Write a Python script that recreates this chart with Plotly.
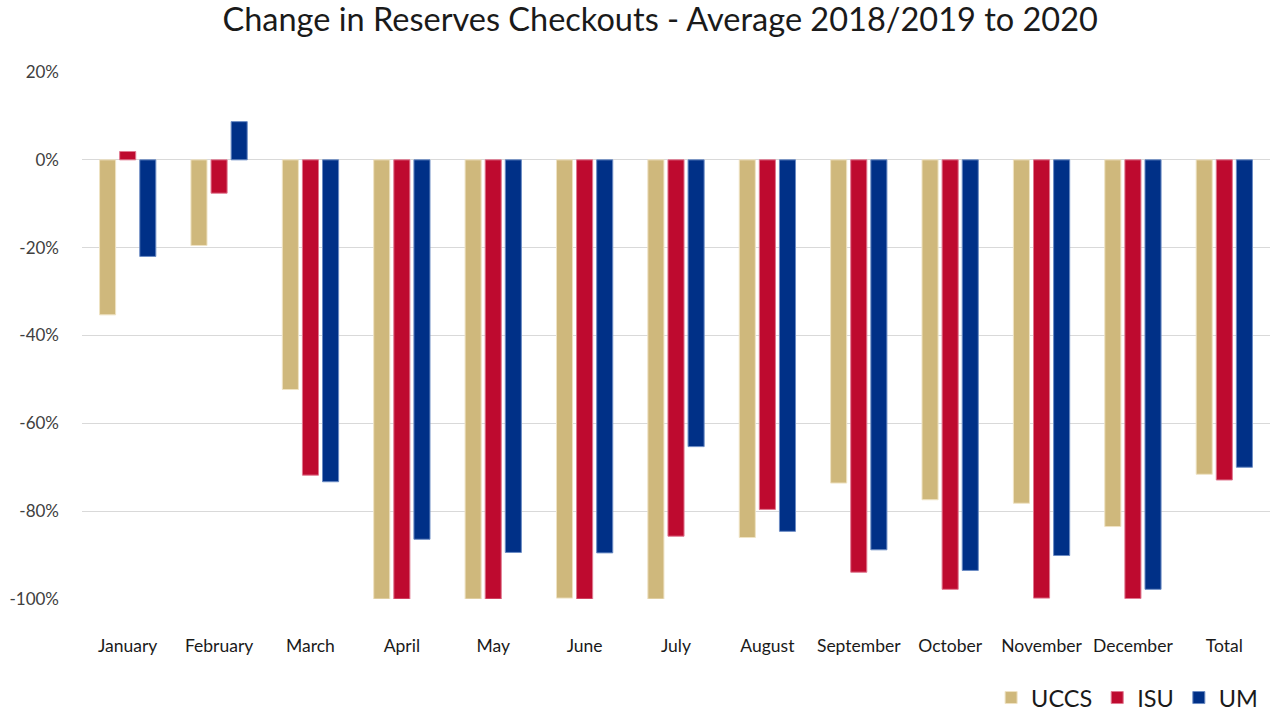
import plotly.graph_objects as go

months = ["January", "February", "March", "April", "May", "June", "July",
          "August", "September", "October", "November", "December", "Total"]

uccs = [-35.3, -19.5, -52.3, -100, -100, -99.8, -100, -86.0, -73.6, -77.4, -78.2, -83.5, -71.6]
isu = [1.9, -7.6, -71.8, -100, -100, -100, -85.7, -79.6, -93.9, -97.8, -99.8, -99.9, -72.9]
um = [-22.0, 8.7, -73.3, -86.4, -89.4, -89.5, -65.3, -84.6, -88.8, -93.5, -90.1, -97.8, -70.0]

y_ticks = [20, 0, -20, -40, -60, -80, -100]
y_tick_labels = ["20%", "0%", "-20%", "-40%", "-60%", "-80%", "-100%"]

fig = go.Figure()

# one trace per school
fig.add_trace(go.Bar(x=months, y=uccs, name="UCCS", marker_color="#CFB87C",
                     marker_line=dict(width=1, color="#EFE3C4")))
fig.add_trace(go.Bar(x=months, y=isu, name="ISU", marker_color="#BE0A2F",
                     marker_line=dict(width=1, color="#E07890")))
fig.add_trace(go.Bar(x=months, y=um, name="UM", marker_color="#003087",
                     marker_line=dict(width=1, color="#6C8CC4")))

fig.update_layout(
    width=1272, height=712,
    barmode="group", bargap=0.34, bargroupgap=0.2,
    plot_bgcolor="white", paper_bgcolor="white",
    font=dict(family="Lato, Open Sans, sans-serif", color="#404040", size=16),
    title=dict(text="Change in Reserves Checkouts - Average 2018/2019 to 2020",
               x=0.519, xanchor="center", y=0.972, yanchor="middle",
               font=dict(size=32.5, color="#1a1a1a")),
    margin=dict(l=82, r=2, t=72, b=113, autoexpand=False),
    legend=dict(orientation="h", xref="container", yref="container",
                x=0.993, xanchor="right", y=0.02, yanchor="middle",
                font=dict(size=23.5, color="#1a1a1a"), traceorder="normal"),
)

fig.update_yaxes(range=[-100, 20], tickvals=y_ticks, ticktext=y_tick_labels,
                 showgrid=True, gridcolor="#d9d9d9", gridwidth=1,
                 zeroline=True, zerolinecolor="#d9d9d9", zerolinewidth=1,
                 ticklabelstandoff=22, showline=False, automargin=False,
                 tickfont=dict(size=17, color="#404040"))
fig.update_xaxes(showline=False, showgrid=False, ticklabelstandoff=34, automargin=False,
                 tickfont=dict(size=17.5, color="#1a1a1a"))

# drop the default page margin so the figure sits at the window's corner
fig.write_html("out.html", config={"displayModeBar": False},
               post_script="document.body.style.margin='0';")
